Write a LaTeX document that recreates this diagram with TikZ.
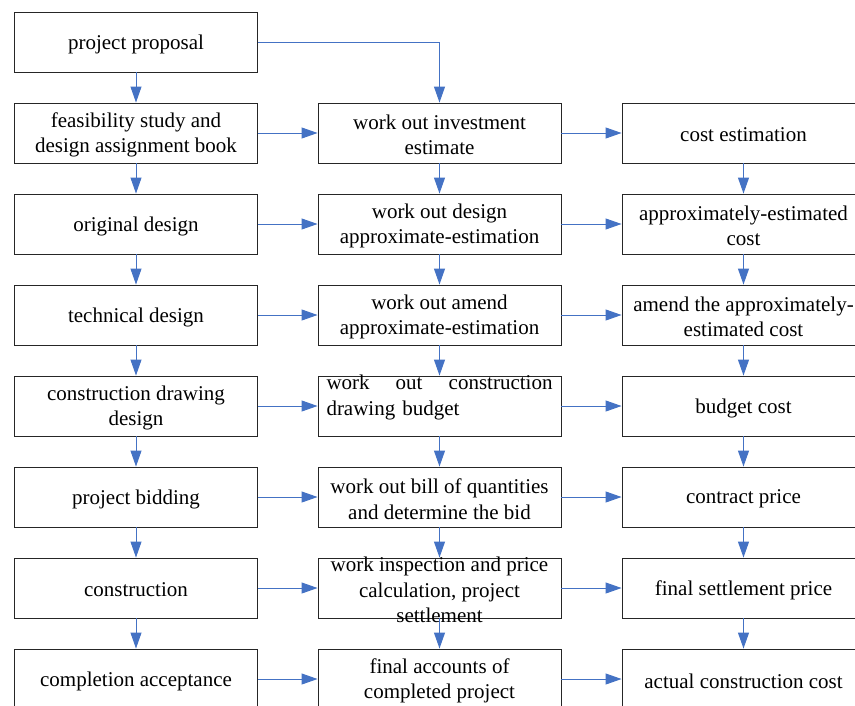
\documentclass[tikz,border=0pt]{standalone}
\usepackage{fontspec}
\setmainfont{Liberation Serif}
\usetikzlibrary{arrows.meta}
\definecolor{connblue}{HTML}{4472C4}
\newcommand\mkbox[4]{\node[boxnode] (#1) at (#2,#3) {}; \node[txt] at (#1.center) {#4};}
\begin{document}
\begin{tikzpicture}[x=1pt,y=-1pt,
  boxnode/.style={draw=black!85,line width=0.9pt,minimum width=243pt,minimum height=60pt,inner sep=0pt,fill=white},
  txt/.style={font=\fontsize{21}{25.5}\selectfont,align=center,inner sep=0pt,yshift=-2pt},
  arr/.style={draw=connblue,line width=1pt,-{Triangle[length=16pt,width=11pt]}}]
\useasboundingbox (0,0) rectangle (855,705);
% column 1
\mkbox{a1}{136}{42}{project proposal}
\mkbox{a2}{136}{133}{feasibility study and\\design assignment book}
\mkbox{a3}{136}{224}{original design}
\mkbox{a4}{136}{315}{technical design}
\mkbox{a5}{136}{406}{construction drawing\\design}
\mkbox{a6}{136}{497}{project bidding}
\mkbox{a7}{136}{588}{construction}
\mkbox{a8}{136}{679}{completion acceptance}
% column 2
\mkbox{b2}{439.5}{133}{work out investment\\estimate}
\mkbox{b3}{439.5}{224}{work out design\\approximate-estimation}
\mkbox{b4}{439.5}{315}{work out amend\\approximate-estimation}
\node[boxnode] (b5) at (439.5,406) {};
\node[txt,text width=226pt,align=left] at (b5.center) {work\hfill out\hfill construction\\drawing budget\\\mbox{}};
\mkbox{b6}{439.5}{497}{work out bill of quantities\\and determine the bid}
\mkbox{b7}{439.5}{588}{work inspection and price\\calculation, project\\settlement}
\mkbox{b8}{439.5}{679}{final accounts of\\completed project}
% column 3
\mkbox{c2}{743.5}{133}{cost estimation}
\mkbox{c3}{743.5}{224}{approximately-estimated\\cost}
\mkbox{c4}{743.5}{315}{amend the approximately-\\estimated cost}
\mkbox{c5}{743.5}{406}{budget cost}
\mkbox{c6}{743.5}{497}{contract price}
\mkbox{c7}{743.5}{588}{final settlement price}
\mkbox{c8}{743.5}{679}{actual construction cost}
% connectors
\draw[arr] (a1.east) -| (b2.north);
\foreach \i/\j in {1/2,2/3,3/4,4/5,5/6,6/7,7/8} \draw[arr] (a\i.south) -- (a\j.north);
\foreach \i/\j in {2/3,3/4,4/5,5/6,6/7,7/8} {
  \draw[arr] (b\i.south) -- (b\j.north);
  \draw[arr] (c\i.south) -- (c\j.north);
}
\foreach \i in {2,...,8} {
  \draw[arr] (a\i.east) -- (b\i.west);
  \draw[arr] (b\i.east) -- (c\i.west);
}
\end{tikzpicture}
\end{document}
